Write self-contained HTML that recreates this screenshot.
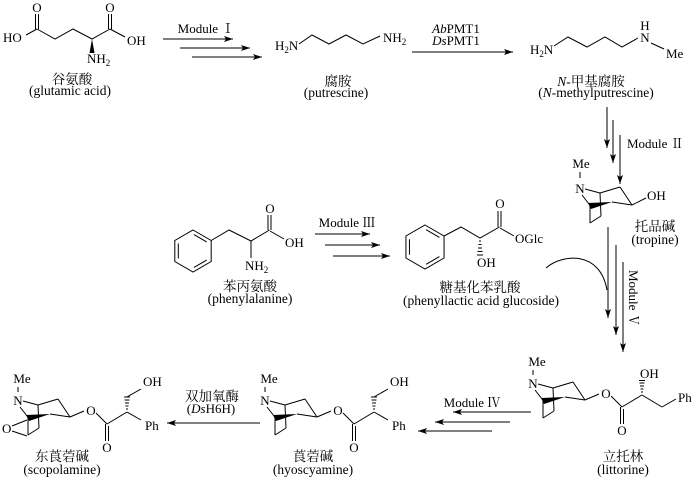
<!DOCTYPE html>
<html><head><meta charset="utf-8">
<style>
html,body{margin:0;padding:0;background:#fff;}
svg{display:block;}
text{font-family:"Liberation Serif","Noto Serif CJK SC",serif;font-size:13px;fill:#000;}
.l{font-size:13.5px;}
</style></head><body>
<svg width="700" height="485" viewBox="0 0 700 485" xmlns="http://www.w3.org/2000/svg">
<defs>
<marker id="ah" markerWidth="9" markerHeight="6" refX="9" refY="3" orient="auto" markerUnits="userSpaceOnUse">
<path d="M0,0 L9,3 L0,6 L2,3 Z" fill="#000"/>
</marker>
</defs>

<!-- ============ Glutamic acid ============ -->
<g stroke="#000" stroke-width="1" fill="none">
<line x1="26" y1="35" x2="37" y2="29"/>
<line x1="35.5" y1="29" x2="35.5" y2="14"/>
<line x1="38.5" y1="29" x2="38.5" y2="14"/>
<polyline points="37,29 55,39 73,29 92,39 110,29"/>
<line x1="108.5" y1="29" x2="108.5" y2="14"/>
<line x1="111.5" y1="29" x2="111.5" y2="14"/>
<line x1="110" y1="29" x2="125" y2="37"/>
</g>
<polygon points="92,39 89.5,53 94.5,53" fill="#000"/>
<text x="37" y="12" text-anchor="middle">O</text>
<text x="110" y="12" text-anchor="middle">O</text>
<text x="3" y="42">HO</text>
<text x="127" y="45">OH</text>
<text x="87" y="63">NH<tspan font-size="9" dy="3">2</tspan></text>
<text class="l" x="72" y="84" text-anchor="middle">谷氨酸</text>
<text class="l" x="70" y="95" text-anchor="middle">(glutamic acid)</text>

<!-- Module I -->
<text x="206" y="33" text-anchor="middle">Module Ⅰ</text>
<g stroke="#000" stroke-width="1">
<line x1="163" y1="39" x2="233" y2="39" marker-end="url(#ah)"/>
<line x1="180" y1="48" x2="250" y2="48" marker-end="url(#ah)"/>
<line x1="192" y1="57" x2="262" y2="57" marker-end="url(#ah)"/>
</g>

<!-- ============ Putrescine ============ -->
<text x="275" y="50">H<tspan font-size="9" dy="3">2</tspan><tspan dy="-3">N</tspan></text>
<polyline points="299,44 312,35 329,44 346,35 363,44 380,36" stroke="#000" stroke-width="1" fill="none"/>
<text x="383" y="42">NH<tspan font-size="9" dy="3">2</tspan></text>
<text class="l" x="338" y="86" text-anchor="middle">腐胺</text>
<text class="l" x="336" y="97" text-anchor="middle">(putrescine)</text>

<!-- PMT arrow -->
<text x="456" y="33" text-anchor="middle"><tspan font-style="italic">Ab</tspan>PMT1</text>
<text x="456" y="45" text-anchor="middle"><tspan font-style="italic">Ds</tspan>PMT1</text>
<line x1="412" y1="52" x2="513" y2="52" stroke="#000" stroke-width="1" marker-end="url(#ah)"/>

<!-- ============ N-methylputrescine ============ -->
<text x="530" y="54">H<tspan font-size="9" dy="3">2</tspan><tspan dy="-3">N</tspan></text>
<polyline points="554,46 568,37 587,47 605,37 622,47 638,38" stroke="#000" stroke-width="1" fill="none"/>
<text x="645" y="42" text-anchor="middle">N</text>
<text x="645" y="30" text-anchor="middle">H</text>
<line x1="651" y1="43" x2="664" y2="49" stroke="#000" stroke-width="1"/>
<text x="666" y="58">Me</text>
<text class="l" x="591" y="86" text-anchor="middle"><tspan font-style="italic">N</tspan>-甲基腐胺</text>
<text class="l" x="596" y="97" text-anchor="middle">(<tspan font-style="italic">N</tspan>-methylputrescine)</text>

<!-- Module II -->
<g stroke="#000" stroke-width="1">
<line x1="607" y1="107" x2="607" y2="148" marker-end="url(#ah)"/>
<line x1="613" y1="120" x2="613" y2="163" marker-end="url(#ah)"/>
<line x1="620" y1="135" x2="620" y2="184" marker-end="url(#ah)"/>
</g>
<text x="627" y="148">Module Ⅱ</text>

<!-- ============ Tropine ============ -->
<text x="581" y="168" text-anchor="middle">Me</text>
<line x1="580" y1="172" x2="580" y2="178" stroke="#000" stroke-width="1"/>
<text x="580" y="193" text-anchor="middle">N</text>
<g transform="translate(47,-195)">
<g stroke="#000" stroke-width="1" fill="none">
<line x1="538" y1="384" x2="553" y2="388"/>
<line x1="553" y1="388" x2="573" y2="382"/>
<line x1="573" y1="382" x2="585" y2="400"/>
<line x1="585" y1="400" x2="565" y2="397"/>
<line x1="535" y1="390" x2="542" y2="399"/>
<line x1="543" y1="401" x2="543" y2="418"/>
<line x1="543" y1="418" x2="554" y2="411"/>
<line x1="554" y1="411" x2="553" y2="388"/>
<line x1="585" y1="400" x2="599" y2="393"/>
</g>
<polygon points="565,397 541,398 544,404" fill="#000"/>
</g>
<text x="647" y="200">OH</text>
<text class="l" x="655" y="231" text-anchor="middle">托品碱</text>
<text class="l" x="655" y="244" text-anchor="middle">(tropine)</text>

<!-- ============ Phenylalanine ============ -->
<g stroke="#000" stroke-width="1" fill="none">
<polygon points="193,230 211.19,240.5 211.19,261.5 193,272 174.81,261.5 174.81,240.5"/>
<line x1="178.3" y1="243.5" x2="178.3" y2="258.5"/>
<line x1="193.98" y1="234.61" x2="206.71" y2="241.96"/>
<line x1="206.71" y1="260.05" x2="193.98" y2="267.4"/>
<polyline points="211.19,240.5 229,230 251,241 269.5,230"/>
<line x1="268" y1="230" x2="268" y2="215"/>
<line x1="271" y1="230" x2="271" y2="215"/>
<line x1="270" y1="231" x2="284" y2="239"/>
<line x1="251" y1="241" x2="251" y2="258"/>
</g>
<text x="270" y="213" text-anchor="middle">O</text>
<text x="285" y="247">OH</text>
<text x="245" y="270">NH<tspan font-size="9" dy="3">2</tspan></text>
<text class="l" x="250" y="291" text-anchor="middle">苯丙氨酸</text>
<text class="l" x="250" y="303" text-anchor="middle">(phenylalanine)</text>

<!-- Module III -->
<text x="347" y="227" text-anchor="middle">Module Ⅲ</text>
<g stroke="#000" stroke-width="1">
<line x1="315" y1="234" x2="370" y2="234" marker-end="url(#ah)"/>
<line x1="325" y1="245" x2="380" y2="245" marker-end="url(#ah)"/>
<line x1="333" y1="256" x2="390" y2="256" marker-end="url(#ah)"/>
</g>

<!-- ============ Phenyllactic acid glucoside ============ -->
<g stroke="#000" stroke-width="1" fill="none">
<polygon points="425,225 444.05,236 444.05,258 425,269 405.95,258 405.95,236"/>
<line x1="409.45" y1="239.3" x2="409.45" y2="254.7"/>
<line x1="426.11" y1="229.68" x2="439.44" y2="237.38"/>
<line x1="439.44" y1="256.62" x2="426.11" y2="264.32"/>
<polyline points="444.05,236 461,227 480,238 499.5,227"/>
<line x1="498" y1="227" x2="498" y2="211"/>
<line x1="501" y1="227" x2="501" y2="211"/>
<line x1="500" y1="228" x2="514" y2="236"/>
<line x1="479" y1="241" x2="481" y2="241"/>
<line x1="478.5" y1="244.5" x2="481.5" y2="244.5"/>
<line x1="478" y1="248" x2="482" y2="248"/>
<line x1="477.5" y1="251.5" x2="482.5" y2="251.5"/>
<line x1="477" y1="255" x2="483" y2="255"/>
</g>
<text x="500" y="208" text-anchor="middle">O</text>
<text x="515" y="243">OGlc</text>
<text x="477" y="267">OH</text>
<text class="l" x="480" y="292" text-anchor="middle">糖基化苯乳酸</text>
<text class="l" x="481" y="305" text-anchor="middle">(phenyllactic acid glucoside)</text>

<!-- curved arrow + Module V -->
<path d="M546,268 C562,254 600,250 607,290" stroke="#000" stroke-width="1" fill="none"/>
<g stroke="#000" stroke-width="1">
<line x1="608" y1="227" x2="608" y2="318" marker-end="url(#ah)"/>
<line x1="616" y1="245" x2="616" y2="335" marker-end="url(#ah)"/>
<line x1="623" y1="262" x2="623" y2="352" marker-end="url(#ah)"/>
</g>
<text transform="translate(629,270) rotate(90)">Module Ⅴ</text>

<!-- ============ Littorine ============ -->
<g>
<text x="537" y="366" text-anchor="middle">Me</text>
<line x1="533" y1="370" x2="533" y2="375" stroke="#000" stroke-width="1"/>
<text x="533" y="388" text-anchor="middle">N</text>
<g stroke="#000" stroke-width="1" fill="none">
<line x1="538" y1="384" x2="553" y2="388"/>
<line x1="553" y1="388" x2="573" y2="382"/>
<line x1="573" y1="382" x2="585" y2="400"/>
<line x1="585" y1="400" x2="565" y2="397"/>
<line x1="535" y1="390" x2="542" y2="399"/>
<line x1="543" y1="401" x2="543" y2="418"/>
<line x1="543" y1="418" x2="554" y2="411"/>
<line x1="554" y1="411" x2="553" y2="388"/>
<line x1="585" y1="400" x2="599" y2="394"/>
<line x1="611" y1="396" x2="622" y2="407"/>
<line x1="620.5" y1="407" x2="620.5" y2="424"/>
<line x1="623.5" y1="409" x2="623.5" y2="424"/>
<line x1="622" y1="407" x2="642" y2="395"/>
</g>
<polygon points="565,397 541,398 544,404" fill="#000"/>
<text x="606" y="398" text-anchor="middle">O</text>
<text x="622" y="435" text-anchor="middle">O</text>
</g>
<g stroke="#000" stroke-width="1" fill="none">
<line x1="641" y1="392" x2="643" y2="392"/>
<line x1="640.5" y1="389" x2="643.5" y2="389"/>
<line x1="640" y1="386" x2="644" y2="386"/>
<line x1="639.5" y1="383" x2="644.5" y2="383"/>
<line x1="639" y1="380.5" x2="645" y2="380.5"/>
<line x1="642" y1="395" x2="662" y2="407"/>
<line x1="662" y1="407" x2="676" y2="399"/>
</g>
<text x="640" y="378">OH</text>
<text x="678" y="402">Ph</text>
<text class="l" x="623" y="461" text-anchor="middle">立托林</text>
<text class="l" x="623" y="474" text-anchor="middle">(littorine)</text>

<!-- Module IV -->
<text x="472" y="407" text-anchor="middle">Module Ⅳ</text>
<g stroke="#000" stroke-width="1">
<line x1="531" y1="412" x2="453" y2="412" marker-end="url(#ah)"/>
<line x1="510" y1="422" x2="435" y2="422" marker-end="url(#ah)"/>
<line x1="492" y1="431" x2="418" y2="431" marker-end="url(#ah)"/>
</g>

<!-- ============ Hyoscyamine ============ -->
<g transform="translate(-268,17)">
<text x="537" y="366" text-anchor="middle">Me</text>
<line x1="533" y1="370" x2="533" y2="375" stroke="#000" stroke-width="1"/>
<text x="533" y="388" text-anchor="middle">N</text>
<g stroke="#000" stroke-width="1" fill="none">
<line x1="538" y1="384" x2="553" y2="388"/>
<line x1="553" y1="388" x2="573" y2="382"/>
<line x1="573" y1="382" x2="585" y2="400"/>
<line x1="585" y1="400" x2="565" y2="397"/>
<line x1="535" y1="390" x2="542" y2="399"/>
<line x1="543" y1="401" x2="543" y2="418"/>
<line x1="543" y1="418" x2="554" y2="411"/>
<line x1="554" y1="411" x2="553" y2="388"/>
<line x1="585" y1="400" x2="599" y2="394"/>
<line x1="611" y1="396" x2="622" y2="407"/>
<line x1="620.5" y1="407" x2="620.5" y2="424"/>
<line x1="623.5" y1="409" x2="623.5" y2="424"/>
<line x1="622" y1="407" x2="642" y2="395"/>
<line x1="641" y1="392" x2="643" y2="392"/>
<line x1="640.5" y1="389" x2="643.5" y2="389"/>
<line x1="640" y1="386" x2="644" y2="386"/>
<line x1="639.5" y1="383" x2="644.5" y2="383"/>
<line x1="639" y1="380" x2="645" y2="380"/>
<line x1="642" y1="380" x2="656" y2="372"/>
<line x1="642" y1="395" x2="656" y2="403"/>
</g>
<polygon points="565,397 541,398 544,404" fill="#000"/>
<text x="606" y="398" text-anchor="middle">O</text>
<text x="622" y="435" text-anchor="middle">O</text>
<text x="658" y="369">OH</text>
<text x="660" y="413">Ph</text>
</g>
<text class="l" x="313" y="461" text-anchor="middle">莨菪碱</text>
<text class="l" x="313" y="474" text-anchor="middle">(hyoscyamine)</text>

<!-- DsH6H arrow -->
<text class="l" x="212" y="401" text-anchor="middle">双加氧酶</text>
<text x="211" y="413" text-anchor="middle">(<tspan font-style="italic">Ds</tspan>H6H)</text>
<line x1="260" y1="423" x2="167" y2="423" stroke="#000" stroke-width="1" marker-end="url(#ah)"/>

<!-- ============ Scopolamine ============ -->
<g transform="translate(-515,17)">
<text x="537" y="366" text-anchor="middle">Me</text>
<line x1="533" y1="370" x2="533" y2="375" stroke="#000" stroke-width="1"/>
<text x="533" y="388" text-anchor="middle">N</text>
<g stroke="#000" stroke-width="1" fill="none">
<line x1="538" y1="384" x2="553" y2="388"/>
<line x1="553" y1="388" x2="573" y2="382"/>
<line x1="573" y1="382" x2="585" y2="400"/>
<line x1="585" y1="400" x2="565" y2="397"/>
<line x1="535" y1="390" x2="542" y2="399"/>
<line x1="543" y1="401" x2="543" y2="418"/>
<line x1="543" y1="418" x2="554" y2="411"/>
<line x1="554" y1="411" x2="553" y2="388"/>
<line x1="585" y1="400" x2="599" y2="394"/>
<line x1="611" y1="396" x2="622" y2="407"/>
<line x1="620.5" y1="407" x2="620.5" y2="424"/>
<line x1="623.5" y1="409" x2="623.5" y2="424"/>
<line x1="622" y1="407" x2="642" y2="395"/>
<line x1="641" y1="392" x2="643" y2="392"/>
<line x1="640.5" y1="389" x2="643.5" y2="389"/>
<line x1="640" y1="386" x2="644" y2="386"/>
<line x1="639.5" y1="383" x2="644.5" y2="383"/>
<line x1="639" y1="380" x2="645" y2="380"/>
<line x1="642" y1="380" x2="656" y2="372"/>
<line x1="642" y1="395" x2="656" y2="403"/>
<line x1="527" y1="409" x2="542" y2="403"/>
<line x1="527" y1="414" x2="542" y2="419"/>
</g>
<polygon points="565,397 541,398 544,404" fill="#000"/>
<text x="606" y="398" text-anchor="middle">O</text>
<text x="622" y="435" text-anchor="middle">O</text>
<text x="658" y="369">OH</text>
<text x="660" y="413">Ph</text>
<text x="517" y="416">O</text>
</g>
<text class="l" x="62" y="461" text-anchor="middle">东莨菪碱</text>
<text class="l" x="62" y="474" text-anchor="middle">(scopolamine)</text>

</svg>
</body></html>
